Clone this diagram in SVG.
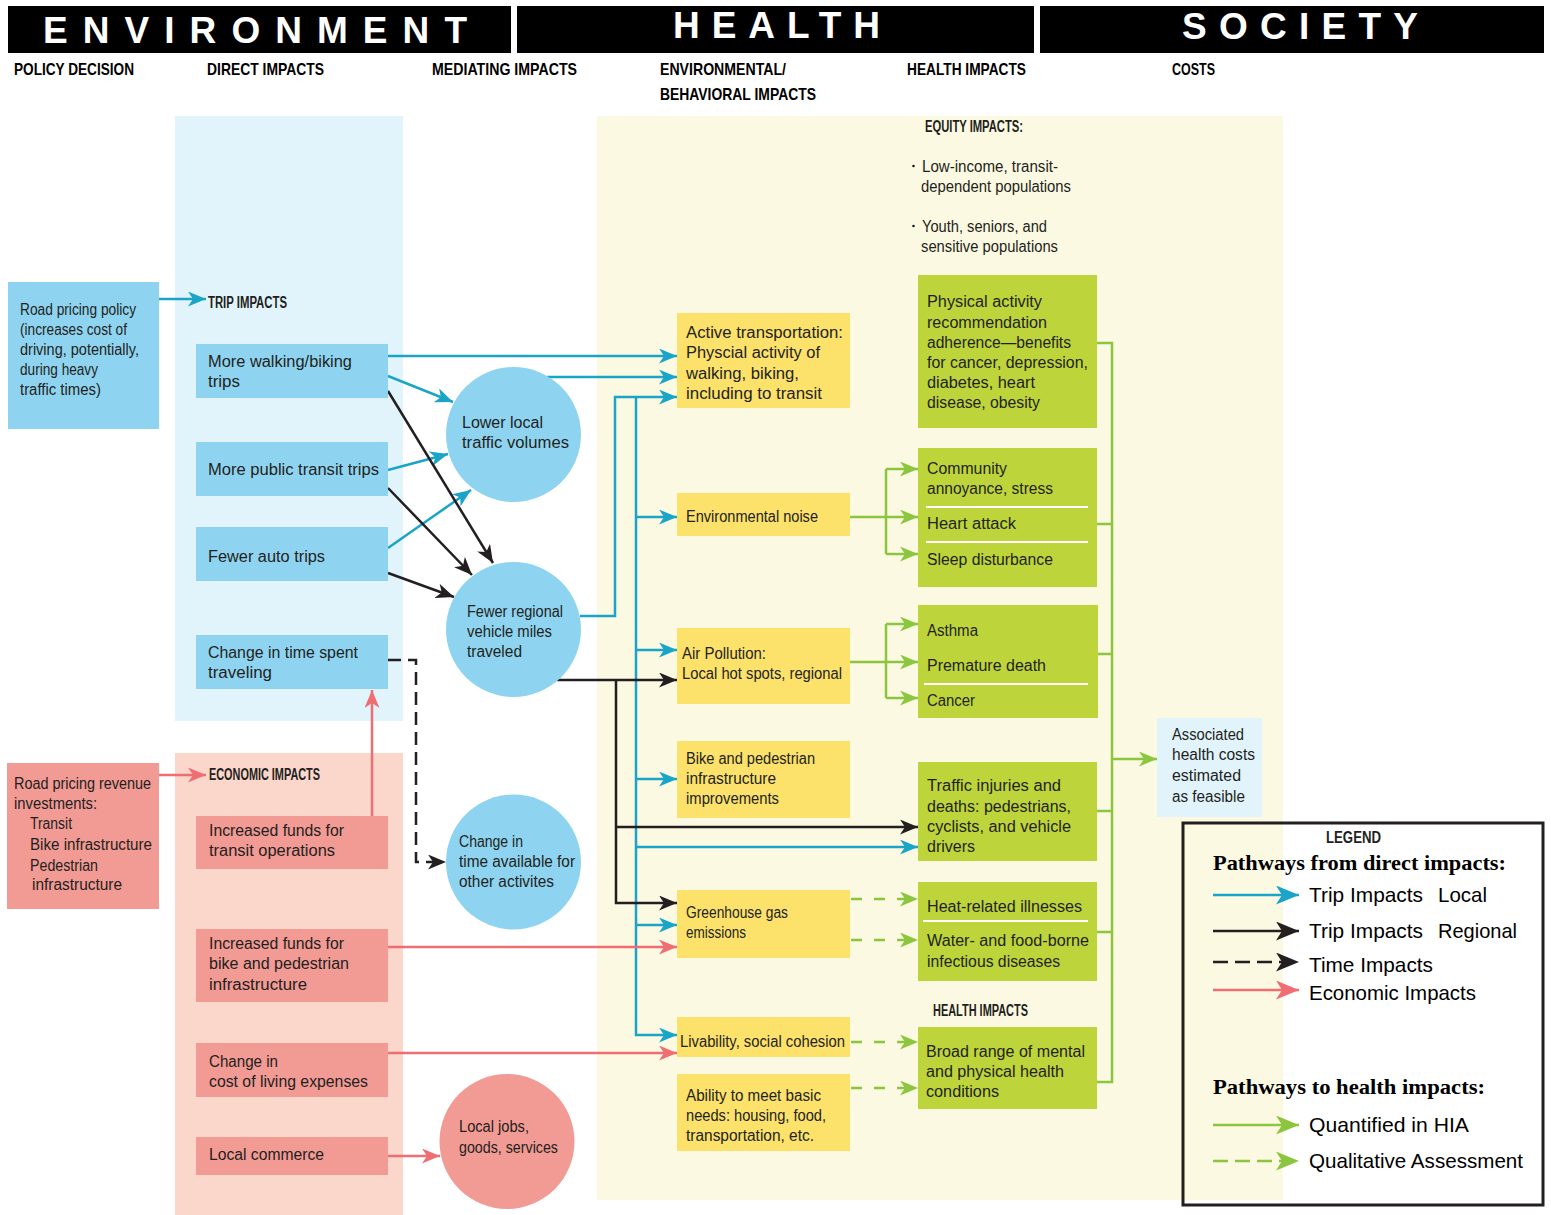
<svg xmlns="http://www.w3.org/2000/svg" width="1551" height="1215" viewBox="0 0 1551 1215">
<style>
.t{font-family:"Liberation Sans",Arial,sans-serif;font-size:16px;fill:#231f20}
.c{font-size:16px}
.b{font-weight:bold}
.sh{font-family:"Liberation Sans",Arial,sans-serif;font-weight:bold;font-size:17px;fill:#000}
.big{font-family:"Liberation Sans",Arial,sans-serif;font-weight:bold;font-size:37px;fill:#fff}
.lg{font-family:"Liberation Sans",Arial,sans-serif;font-size:21px;fill:#000}
.lgh{font-family:"Liberation Serif","Times New Roman",serif;font-weight:bold;font-size:22px;fill:#000}
.bl{fill:#8ed4f1}.pk{fill:#f29a94}.yl{fill:#fce16b}.gr{fill:#bdd53a}
.teal{stroke:#1aa5c8;stroke-width:2.5;fill:none}
.blk{stroke:#231f20;stroke-width:2.5;fill:none}
.pnk{stroke:#ef6e74;stroke-width:2.5;fill:none}
.grn{stroke:#8cc63f;stroke-width:2.5;fill:none}
.dash{stroke-dasharray:13 7}
.gdash{stroke-dasharray:11 12}
.sep{stroke:#fff;stroke-width:2}
</style>
<defs>
<marker id="aT" markerUnits="userSpaceOnUse" markerWidth="18" markerHeight="15" refX="18" refY="7.5" orient="auto"><path d="M0,0 L18,7.5 L0,15 L5,7.5 Z" fill="#1aa5c8"/></marker>
<marker id="aK" markerUnits="userSpaceOnUse" markerWidth="18" markerHeight="15" refX="18" refY="7.5" orient="auto"><path d="M0,0 L18,7.5 L0,15 L5,7.5 Z" fill="#231f20"/></marker>
<marker id="aP" markerUnits="userSpaceOnUse" markerWidth="18" markerHeight="15" refX="18" refY="7.5" orient="auto"><path d="M0,0 L18,7.5 L0,15 L5,7.5 Z" fill="#ef6e74"/></marker>
<marker id="aG" markerUnits="userSpaceOnUse" markerWidth="18" markerHeight="15" refX="18" refY="7.5" orient="auto"><path d="M0,0 L18,7.5 L0,15 L5,7.5 Z" fill="#8cc63f"/></marker>
<marker id="LT" markerUnits="userSpaceOnUse" markerWidth="23" markerHeight="19" refX="23" refY="9.5" orient="auto"><path d="M0,0 L23,9.5 L0,19 L6,9.5 Z" fill="#1aa5c8"/></marker>
<marker id="LK" markerUnits="userSpaceOnUse" markerWidth="23" markerHeight="19" refX="23" refY="9.5" orient="auto"><path d="M0,0 L23,9.5 L0,19 L6,9.5 Z" fill="#231f20"/></marker>
<marker id="LP" markerUnits="userSpaceOnUse" markerWidth="23" markerHeight="19" refX="23" refY="9.5" orient="auto"><path d="M0,0 L23,9.5 L0,19 L6,9.5 Z" fill="#ef6e74"/></marker>
<marker id="LG" markerUnits="userSpaceOnUse" markerWidth="23" markerHeight="19" refX="23" refY="9.5" orient="auto"><path d="M0,0 L23,9.5 L0,19 L6,9.5 Z" fill="#8cc63f"/></marker>
</defs>
<rect width="1551" height="1215" fill="#fff"/>

<g id="header">
<rect x="8" y="6" width="503" height="47" fill="#000"/>
<rect x="517" y="6" width="517" height="47" fill="#000"/>
<rect x="1040" y="6" width="504" height="47" fill="#000"/>
<text class="big" x="43" y="43" textLength="424" lengthAdjust="spacing">ENVIRONMENT</text>
<text class="big" x="673" y="38" textLength="207" lengthAdjust="spacing">HEALTH</text>
<text class="big" x="1182" y="39" textLength="236" lengthAdjust="spacing">SOCIETY</text>
<text class="sh" x="14" y="75" textLength="120" lengthAdjust="spacingAndGlyphs">POLICY DECISION</text>
<text class="sh" x="207" y="75" textLength="117" lengthAdjust="spacingAndGlyphs">DIRECT IMPACTS</text>
<text class="sh" x="432" y="75" textLength="145" lengthAdjust="spacingAndGlyphs">MEDIATING IMPACTS</text>
<text class="sh" x="660" y="75" textLength="126" lengthAdjust="spacingAndGlyphs">ENVIRONMENTAL/</text>
<text class="sh" x="660" y="100" textLength="156" lengthAdjust="spacingAndGlyphs">BEHAVIORAL IMPACTS</text>
<text class="sh" x="907" y="75" textLength="119" lengthAdjust="spacingAndGlyphs">HEALTH IMPACTS</text>
<text class="sh" x="1172" y="75" textLength="43" lengthAdjust="spacingAndGlyphs">COSTS</text>
</g>

<g id="panels">
<rect x="175" y="116" width="228" height="605" fill="#e1f3fb"/>
<rect x="175" y="753" width="228" height="462" fill="#fad6cb"/>
<rect x="597" y="116" width="686" height="1084" fill="#fbf9e2"/>
</g>

<g id="equity-impacts">
<text class="t b" x="925" y="132" font-size="13" textLength="98" lengthAdjust="spacingAndGlyphs">EQUITY IMPACTS:</text>
<circle cx="913.5" cy="166" r="1.3" fill="#231f20"/>
<text class="t" x="922" y="172" textLength="136" lengthAdjust="spacingAndGlyphs">Low-income, transit-</text>
<text class="t" x="921" y="192" textLength="150" lengthAdjust="spacingAndGlyphs">dependent populations</text>
<circle cx="913.5" cy="226" r="1.3" fill="#231f20"/>
<text class="t" x="922" y="232" textLength="125" lengthAdjust="spacingAndGlyphs">Youth, seniors, and</text>
<text class="t" x="921" y="252" textLength="137" lengthAdjust="spacingAndGlyphs">sensitive populations</text>
</g>

<g id="connectors">
<path class="teal" d="M159,299 H206" marker-end="url(#aT)"/>
<path class="teal" d="M388,356 H677" marker-end="url(#aT)"/>
<path class="teal" d="M388,376 L453,402" marker-end="url(#aT)"/>
<path class="teal" d="M388,470 L448,454" marker-end="url(#aT)"/>
<path class="teal" d="M388,548 L471,490" marker-end="url(#aT)"/>
<path class="teal" d="M547,377 H677" marker-end="url(#aT)"/>
<path class="teal" d="M580,616 H615 V397 H677" marker-end="url(#aT)"/>
<path class="teal" d="M636,397 V1035 H677" marker-end="url(#aT)"/>
<path class="teal" d="M636,517 H677" marker-end="url(#aT)"/>
<path class="teal" d="M636,650 H677" marker-end="url(#aT)"/>
<path class="teal" d="M636,779 H677" marker-end="url(#aT)"/>
<path class="teal" d="M636,847 H918" marker-end="url(#aT)"/>
<path class="teal" d="M636,925 H677" marker-end="url(#aT)"/>
<path class="blk" d="M388,391 L493,563" marker-end="url(#aK)"/>
<path class="blk" d="M388,488 L472,575" marker-end="url(#aK)"/>
<path class="blk" d="M388,573 L454,597" marker-end="url(#aK)"/>
<path class="blk" d="M557,680 H677" marker-end="url(#aK)"/>
<path class="blk" d="M616,680 V903 H677" marker-end="url(#aK)"/>
<path class="blk" d="M616,827 H918" marker-end="url(#aK)"/>
<path class="blk dash" d="M388,660 H416 V862 H446" marker-end="url(#aK)"/>
<path class="pnk" d="M159,775 H206" marker-end="url(#aP)"/>
<path class="pnk" d="M372,816 V690" marker-end="url(#aP)"/>
<path class="pnk" d="M388,947 H677" marker-end="url(#aP)"/>
<path class="pnk" d="M388,1053 H677" marker-end="url(#aP)"/>
<path class="pnk" d="M388,1156 H440" marker-end="url(#aP)"/>
<path class="grn" d="M849,517 H886 M886,469 V554"/>
<path class="grn" d="M886,469 H918" marker-end="url(#aG)"/>
<path class="grn" d="M886,517 H918" marker-end="url(#aG)"/>
<path class="grn" d="M886,554 H918" marker-end="url(#aG)"/>
<path class="grn" d="M849,662 H886 M886,624 V698"/>
<path class="grn" d="M886,624 H918" marker-end="url(#aG)"/>
<path class="grn" d="M886,662 H918" marker-end="url(#aG)"/>
<path class="grn" d="M886,698 H918" marker-end="url(#aG)"/>
<path class="grn gdash" d="M851,899 H918" marker-end="url(#aG)"/>
<path class="grn gdash" d="M851,940 H918" marker-end="url(#aG)"/>
<path class="grn gdash" d="M851,1042 H918" marker-end="url(#aG)"/>
<path class="grn gdash" d="M851,1088 H918" marker-end="url(#aG)"/>
<path class="grn" d="M1097,343 H1112 V1082 H1097 M1097,524 H1112 M1097,654 H1112 M1097,811 H1112 M1097,932 H1112"/>
<path class="grn" d="M1112,759 H1157" marker-end="url(#aG)"/>
</g>

<g id="road-pricing-policy">
<rect class="bl" x="8" y="282" width="151" height="147"/>
<text class="t c" x="20" y="315" textLength="116" lengthAdjust="spacingAndGlyphs">Road pricing policy</text>
<text class="t c" x="20" y="335" textLength="107" lengthAdjust="spacingAndGlyphs">(increases cost of</text>
<text class="t c" x="20" y="355" textLength="119" lengthAdjust="spacingAndGlyphs">driving, potentially,</text>
<text class="t c" x="20" y="375" textLength="78" lengthAdjust="spacingAndGlyphs">during heavy</text>
<text class="t c" x="20" y="395" textLength="81" lengthAdjust="spacingAndGlyphs">traffic times)</text>
</g>

<g id="road-pricing-revenue">
<rect class="pk" x="7" y="763" width="152" height="146"/>
<text class="t c" x="14" y="789" textLength="137" lengthAdjust="spacingAndGlyphs">Road pricing revenue</text>
<text class="t c" x="14" y="809" textLength="83" lengthAdjust="spacingAndGlyphs">investments:</text>
<text class="t c" x="30" y="829" textLength="42" lengthAdjust="spacingAndGlyphs">Transit</text>
<text class="t c" x="30" y="850" textLength="122" lengthAdjust="spacingAndGlyphs">Bike infrastructure</text>
<text class="t c" x="30" y="871" textLength="68" lengthAdjust="spacingAndGlyphs">Pedestrian</text>
<text class="t c" x="32" y="890" textLength="90" lengthAdjust="spacingAndGlyphs">infrastructure</text>
</g>

<g id="trip-impacts-label">
<text class="t b" x="208" y="308" font-size="15" textLength="79" lengthAdjust="spacingAndGlyphs">TRIP IMPACTS</text>
</g>
<g id="economic-impacts-label">
<text class="t b" x="209" y="780" font-size="15" textLength="111" lengthAdjust="spacingAndGlyphs">ECONOMIC IMPACTS</text>
</g>

<g id="more-walking-biking">
<rect class="bl" x="196" y="344" width="192" height="54"/>
<text class="t" x="208" y="367" textLength="144" lengthAdjust="spacingAndGlyphs">More walking/biking</text>
<text class="t" x="208" y="387" textLength="32" lengthAdjust="spacingAndGlyphs">trips</text>
</g>
<g id="more-public-transit">
<rect class="bl" x="196" y="442" width="192" height="54"/>
<text class="t" x="208" y="475" textLength="171" lengthAdjust="spacingAndGlyphs">More public transit trips</text>
</g>
<g id="fewer-auto-trips">
<rect class="bl" x="196" y="527" width="192" height="54"/>
<text class="t" x="208" y="562" textLength="117" lengthAdjust="spacingAndGlyphs">Fewer auto trips</text>
</g>
<g id="change-time-spent">
<rect class="bl" x="196" y="635" width="192" height="54"/>
<text class="t" x="208" y="658" textLength="150" lengthAdjust="spacingAndGlyphs">Change in time spent</text>
<text class="t" x="208" y="678" textLength="64" lengthAdjust="spacingAndGlyphs">traveling</text>
</g>

<g id="funds-transit">
<rect class="pk" x="196" y="816" width="192" height="53"/>
<text class="t" x="209" y="836" textLength="135" lengthAdjust="spacingAndGlyphs">Increased funds for</text>
<text class="t" x="209" y="856" textLength="126" lengthAdjust="spacingAndGlyphs">transit operations</text>
</g>
<g id="funds-bike-ped">
<rect class="pk" x="196" y="929" width="192" height="73"/>
<text class="t" x="209" y="949" textLength="135" lengthAdjust="spacingAndGlyphs">Increased funds for</text>
<text class="t" x="209" y="969" textLength="140" lengthAdjust="spacingAndGlyphs">bike and pedestrian</text>
<text class="t" x="209" y="990" textLength="98" lengthAdjust="spacingAndGlyphs">infrastructure</text>
</g>
<g id="cost-of-living">
<rect class="pk" x="196" y="1043" width="192" height="54"/>
<text class="t" x="209" y="1067" textLength="69" lengthAdjust="spacingAndGlyphs">Change in</text>
<text class="t" x="209" y="1087" textLength="159" lengthAdjust="spacingAndGlyphs">cost of living expenses</text>
</g>
<g id="local-commerce">
<rect class="pk" x="196" y="1137" width="192" height="38"/>
<text class="t" x="209" y="1160" textLength="115" lengthAdjust="spacingAndGlyphs">Local commerce</text>
</g>

<g id="lower-local-traffic">
<circle class="bl" cx="513.5" cy="434.5" r="67.5"/>
<text class="t" x="462" y="428" textLength="81" lengthAdjust="spacingAndGlyphs">Lower local</text>
<text class="t" x="462" y="448" textLength="107" lengthAdjust="spacingAndGlyphs">traffic volumes</text>
</g>
<g id="fewer-regional-vmt">
<circle class="bl" cx="513.5" cy="629.5" r="67.5"/>
<text class="t" x="467" y="617" textLength="96" lengthAdjust="spacingAndGlyphs">Fewer regional</text>
<text class="t" x="467" y="637" textLength="85" lengthAdjust="spacingAndGlyphs">vehicle miles</text>
<text class="t" x="467" y="657" textLength="55" lengthAdjust="spacingAndGlyphs">traveled</text>
</g>
<g id="change-time-available">
<circle class="bl" cx="513.5" cy="862" r="67.5"/>
<text class="t" x="459" y="847" textLength="64" lengthAdjust="spacingAndGlyphs">Change in</text>
<text class="t" x="459" y="867" textLength="116" lengthAdjust="spacingAndGlyphs">time available for</text>
<text class="t" x="459" y="887" textLength="95" lengthAdjust="spacingAndGlyphs">other activites</text>
</g>
<g id="local-jobs">
<circle class="pk" cx="507" cy="1141.5" r="67.5"/>
<text class="t" x="459" y="1132" textLength="70" lengthAdjust="spacingAndGlyphs">Local jobs,</text>
<text class="t" x="459" y="1153" textLength="99" lengthAdjust="spacingAndGlyphs">goods, services</text>
</g>

<g id="active-transportation">
<rect class="yl" x="677" y="313" width="173" height="95"/>
<text class="t" x="686" y="338" textLength="157" lengthAdjust="spacingAndGlyphs">Active transportation:</text>
<text class="t" x="686" y="358" textLength="134" lengthAdjust="spacingAndGlyphs">Physcial activity of</text>
<text class="t" x="686" y="379" textLength="113" lengthAdjust="spacingAndGlyphs">walking, biking,</text>
<text class="t" x="686" y="399" textLength="136" lengthAdjust="spacingAndGlyphs">including to transit</text>
</g>
<g id="environmental-noise">
<rect class="yl" x="677" y="493" width="173" height="43"/>
<text class="t" x="686" y="522" textLength="132" lengthAdjust="spacingAndGlyphs">Environmental noise</text>
</g>
<g id="air-pollution">
<rect class="yl" x="677" y="628" width="173" height="76"/>
<text class="t" x="682" y="659" textLength="84" lengthAdjust="spacingAndGlyphs">Air Pollution:</text>
<text class="t" x="682" y="679" textLength="160" lengthAdjust="spacingAndGlyphs">Local hot spots, regional</text>
</g>
<g id="bike-ped-infrastructure">
<rect class="yl" x="677" y="741" width="173" height="77"/>
<text class="t" x="686" y="764" textLength="129" lengthAdjust="spacingAndGlyphs">Bike and pedestrian</text>
<text class="t" x="686" y="784" textLength="90" lengthAdjust="spacingAndGlyphs">infrastructure</text>
<text class="t" x="686" y="804" textLength="93" lengthAdjust="spacingAndGlyphs">improvements</text>
</g>
<g id="greenhouse-gas">
<rect class="yl" x="677" y="890" width="173" height="68"/>
<text class="t" x="686" y="918" textLength="102" lengthAdjust="spacingAndGlyphs">Greenhouse gas</text>
<text class="t" x="686" y="938" textLength="60" lengthAdjust="spacingAndGlyphs">emissions</text>
</g>
<g id="livability">
<rect class="yl" x="677" y="1017" width="173" height="40"/>
<text class="t" x="680" y="1047" textLength="165" lengthAdjust="spacingAndGlyphs">Livability, social cohesion</text>
</g>
<g id="basic-needs">
<rect class="yl" x="677" y="1074" width="173" height="77"/>
<text class="t" x="686" y="1101" textLength="135" lengthAdjust="spacingAndGlyphs">Ability to meet basic</text>
<text class="t" x="686" y="1121" textLength="140" lengthAdjust="spacingAndGlyphs">needs: housing, food,</text>
<text class="t" x="686" y="1141" textLength="128" lengthAdjust="spacingAndGlyphs">transportation, etc.</text>
</g>

<g id="physical-activity">
<rect class="gr" x="918" y="275" width="179" height="153"/>
<text class="t" x="927" y="307" textLength="115" lengthAdjust="spacingAndGlyphs">Physical activity</text>
<text class="t" x="927" y="328" textLength="120" lengthAdjust="spacingAndGlyphs">recommendation</text>
<text class="t" x="927" y="348" textLength="144" lengthAdjust="spacingAndGlyphs">adherence—benefits</text>
<text class="t" x="927" y="368" textLength="161" lengthAdjust="spacingAndGlyphs">for cancer, depression,</text>
<text class="t" x="927" y="388" textLength="108" lengthAdjust="spacingAndGlyphs">diabetes, heart</text>
<text class="t" x="927" y="408" textLength="113" lengthAdjust="spacingAndGlyphs">disease, obesity</text>
</g>
<g id="noise-health">
<rect class="gr" x="918" y="448" width="179" height="139"/>
<line class="sep" x1="926" y1="507" x2="1088" y2="507"/>
<line class="sep" x1="926" y1="542" x2="1088" y2="542"/>
<text class="t" x="927" y="474" textLength="80" lengthAdjust="spacingAndGlyphs">Community</text>
<text class="t" x="927" y="494" textLength="126" lengthAdjust="spacingAndGlyphs">annoyance, stress</text>
<text class="t" x="927" y="529" textLength="89" lengthAdjust="spacingAndGlyphs">Heart attack</text>
<text class="t" x="927" y="565" textLength="126" lengthAdjust="spacingAndGlyphs">Sleep disturbance</text>
</g>
<g id="air-health">
<rect class="gr" x="918" y="605" width="180" height="113"/>
<line class="sep" x1="924" y1="684" x2="1088" y2="684"/>
<text class="t" x="927" y="636" textLength="51" lengthAdjust="spacingAndGlyphs">Asthma</text>
<text class="t" x="927" y="671" textLength="119" lengthAdjust="spacingAndGlyphs">Premature death</text>
<text class="t" x="927" y="706" textLength="48" lengthAdjust="spacingAndGlyphs">Cancer</text>
</g>
<g id="traffic-injuries">
<rect class="gr" x="918" y="762" width="179" height="99"/>
<text class="t" x="927" y="791" textLength="134" lengthAdjust="spacingAndGlyphs">Traffic injuries and</text>
<text class="t" x="927" y="812" textLength="144" lengthAdjust="spacingAndGlyphs">deaths: pedestrians,</text>
<text class="t" x="927" y="832" textLength="144" lengthAdjust="spacingAndGlyphs">cyclists, and vehicle</text>
<text class="t" x="927" y="852" textLength="48" lengthAdjust="spacingAndGlyphs">drivers</text>
</g>
<g id="heat-water-illness">
<rect class="gr" x="918" y="882" width="179" height="99"/>
<line class="sep" x1="923" y1="921" x2="1088" y2="921"/>
<text class="t" x="927" y="912" textLength="155" lengthAdjust="spacingAndGlyphs">Heat-related illnesses</text>
<text class="t" x="927" y="946" textLength="162" lengthAdjust="spacingAndGlyphs">Water- and food-borne</text>
<text class="t" x="927" y="967" textLength="133" lengthAdjust="spacingAndGlyphs">infectious diseases</text>
</g>
<g id="health-impacts-label">
<text class="t b" x="933" y="1016" font-size="14" textLength="95" lengthAdjust="spacingAndGlyphs">HEALTH IMPACTS</text>
</g>
<g id="broad-range">
<rect class="gr" x="918" y="1027" width="179" height="82"/>
<text class="t" x="926" y="1057" textLength="159" lengthAdjust="spacingAndGlyphs">Broad range of mental</text>
<text class="t" x="926" y="1077" textLength="138" lengthAdjust="spacingAndGlyphs">and physical health</text>
<text class="t" x="926" y="1097" textLength="73" lengthAdjust="spacingAndGlyphs">conditions</text>
</g>

<g id="health-costs">
<rect x="1157" y="718" width="105" height="99" fill="#e1f3fb"/>
<text class="t" x="1172" y="740" textLength="72" lengthAdjust="spacingAndGlyphs">Associated</text>
<text class="t" x="1172" y="760" textLength="83" lengthAdjust="spacingAndGlyphs">health costs</text>
<text class="t" x="1172" y="781" textLength="69" lengthAdjust="spacingAndGlyphs">estimated</text>
<text class="t" x="1172" y="802" textLength="73" lengthAdjust="spacingAndGlyphs">as feasible</text>
</g>

<g id="legend">
<rect x="1183" y="823" width="360" height="382" fill="none" stroke="#231f20" stroke-width="3"/>
<text class="t b" x="1326" y="843" font-size="18" fill="#000" textLength="55" lengthAdjust="spacingAndGlyphs">LEGEND</text>
<text class="lgh" x="1213" y="870" textLength="293" lengthAdjust="spacingAndGlyphs">Pathways from direct impacts:</text>
<path class="teal" stroke-width="3" d="M1213,895 H1299" marker-end="url(#LT)"/>
<text class="lg" x="1309" y="902" textLength="114" lengthAdjust="spacingAndGlyphs">Trip Impacts</text>
<text class="lg" x="1438" y="902" textLength="49" lengthAdjust="spacingAndGlyphs">Local</text>
<path class="blk" stroke-width="3" d="M1213,931 H1299" marker-end="url(#LK)"/>
<text class="lg" x="1309" y="938" textLength="114" lengthAdjust="spacingAndGlyphs">Trip Impacts</text>
<text class="lg" x="1438" y="938" textLength="79" lengthAdjust="spacingAndGlyphs">Regional</text>
<path class="blk" stroke-width="3" stroke-dasharray="15 7" d="M1213,962 H1299" marker-end="url(#LK)"/>
<text class="lg" x="1309" y="972" textLength="124" lengthAdjust="spacingAndGlyphs">Time Impacts</text>
<path class="pnk" stroke-width="3" d="M1213,990 H1299" marker-end="url(#LP)"/>
<text class="lg" x="1309" y="1000" textLength="167" lengthAdjust="spacingAndGlyphs">Economic Impacts</text>
<text class="lgh" x="1213" y="1094" textLength="272" lengthAdjust="spacingAndGlyphs">Pathways to health impacts:</text>
<path class="grn" stroke-width="3" d="M1213,1125 H1299" marker-end="url(#LG)"/>
<text class="lg" x="1309" y="1132" textLength="160" lengthAdjust="spacingAndGlyphs">Quantified in HIA</text>
<path class="grn" stroke-width="3" stroke-dasharray="15 7" d="M1213,1161 H1299" marker-end="url(#LG)"/>
<text class="lg" x="1309" y="1168" textLength="214" lengthAdjust="spacingAndGlyphs">Qualitative Assessment</text>
</g>
</svg>
